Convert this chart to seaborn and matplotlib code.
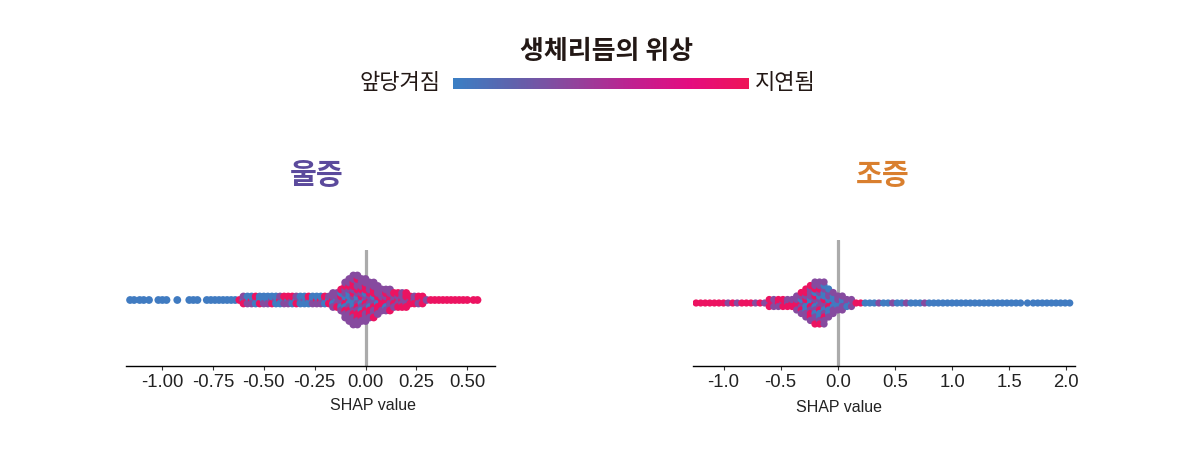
import numpy as np
import pandas as pd
import matplotlib
matplotlib.use("Agg")
import matplotlib.pyplot as plt
from matplotlib.colors import LinearSegmentedColormap
import seaborn as sns

# SHAP values per bin, with point counts by phase group
left_x = [-1.157, -1.137, -1.11, -1.09, -1.064, -1.018, -0.998, -0.978, -0.925, -0.866, -0.846, -0.826,
          -0.78, -0.76, -0.74, -0.72, -0.70, -0.68, -0.66,
          -0.64, -0.62, -0.60, -0.58, -0.56, -0.54, -0.52, -0.50, -0.48, -0.46, -0.44, -0.42, -0.40, -0.38, -0.36, -0.34, -0.32, -0.30, -0.28,
          -0.26, -0.24, -0.22, -0.20, -0.18, -0.16, -0.14, -0.12,
          -0.10, -0.08, -0.06, -0.04, -0.02, 0.00, 0.02, 0.04, 0.06, 0.08, 0.10,
          0.12, 0.14, 0.16, 0.18, 0.20, 0.22, 0.24, 0.26, 0.28,
          0.30, 0.32, 0.34, 0.36, 0.38, 0.40, 0.42, 0.44, 0.46, 0.48, 0.50,
          0.53, 0.55]
left_blue = [1, 1, 1, 1, 1, 1, 1, 1, 1, 1, 1, 1,
             1, 1, 1, 1, 1, 1, 1,
             1, 0, 1, 1, 1, 1, 2, 2, 2, 1, 2, 1, 1, 1, 1, 1, 2, 2, 1,
             2, 1, 1, 1, 1, 1, 1, 2,
             2, 3, 3, 2, 2, 2, 1, 1, 1, 0, 1,
             0, 0, 0, 0, 0, 0, 0, 0, 0,
             0, 0, 0, 0, 0, 0, 0, 0, 0, 0, 0,
             0, 0]
left_purple = [0, 0, 0, 0, 0, 0, 0, 0, 0, 0, 0, 0,
               0, 0, 0, 0, 0, 0, 0,
               0, 0, 1, 1, 1, 1, 0, 1, 1, 1, 1, 1, 1, 1, 1, 1, 1, 1, 1,
               1, 1, 1, 1, 1, 3, 3, 3,
               6, 7, 8, 8, 7, 7, 6, 6, 5, 4, 3,
               4, 3, 2, 3, 2, 1, 2, 1, 1,
               1, 0, 0, 0, 0, 0, 0, 0, 0, 0, 0,
               0, 0]
left_pink = [0, 0, 0, 0, 0, 0, 0, 0, 0, 0, 0, 0,
             0, 0, 0, 0, 0, 0, 0,
             0, 1, 1, 1, 1, 1, 1, 0, 0, 1, 0, 1, 1, 1, 1, 1, 0, 0, 1,
             0, 1, 1, 1, 1, 1, 1, 2,
             3, 3, 4, 5, 4, 4, 4, 4, 3, 3, 3,
             3, 2, 3, 2, 3, 2, 1, 2, 2,
             0, 1, 1, 1, 1, 1, 1, 1, 1, 1, 1,
             1, 1]

right_x = [-1.24, -1.20, -1.16, -1.12, -1.08, -1.04, -1.00, -0.96, -0.92, -0.88, -0.84, -0.80, -0.76, -0.72,
           -0.68, -0.64, -0.60, -0.56, -0.52, -0.48, -0.44, -0.40,
           -0.36, -0.32, -0.28, -0.24, -0.20, -0.16, -0.12, -0.08, -0.04, 0.00, 0.04, 0.08, 0.12, 0.16, 0.20,
           0.24, 0.28, 0.32, 0.36, 0.40, 0.44, 0.48, 0.52, 0.56, 0.60, 0.64, 0.68, 0.72, 0.76, 0.80,
           0.84, 0.88, 0.92, 0.96, 1.00, 1.04, 1.08, 1.12, 1.16, 1.20, 1.24, 1.28, 1.32, 1.36, 1.40, 1.44, 1.48, 1.52, 1.56, 1.60,
           1.66, 1.71, 1.75, 1.79, 1.83, 1.87, 1.91, 1.95, 1.99, 2.03]
right_blue = [0, 0, 0, 0, 0, 0, 0, 0, 0, 0, 0, 0, 0, 0,
              0, 0, 0, 0, 0, 0, 0, 0,
              0, 1, 2, 2, 3, 4, 4, 4, 3, 2, 2, 1, 1, 0, 0,
              1, 1, 1, 0, 1, 1, 0, 1, 1, 0, 1, 1, 1, 0, 1,
              1, 1, 1, 1, 1, 1, 1, 1, 1, 1, 1, 1, 1, 1, 1, 1, 1, 1, 1, 1,
              1, 1, 1, 1, 1, 1, 1, 1, 1, 1]
right_purple = [0, 0, 0, 0, 0, 0, 0, 1, 0, 1, 0, 0, 0, 1,
                0, 1, 1, 2, 1, 1, 2, 1,
                3, 3, 4, 5, 6, 6, 7, 4, 3, 3, 3, 2, 2, 0, 0,
                0, 0, 0, 1, 0, 0, 1, 0, 0, 1, 0, 0, 0, 1, 0,
                0, 0, 0, 0, 0, 0, 0, 0, 0, 0, 0, 0, 0, 0, 0, 0, 0, 0, 0, 0,
                0, 0, 0, 0, 0, 0, 0, 0, 0, 0]
right_pink = [1, 1, 1, 1, 1, 1, 1, 0, 1, 0, 1, 1, 1, 0,
              1, 0, 2, 1, 2, 2, 1, 2,
              2, 3, 3, 4, 4, 3, 2, 1, 1, 0, 0, 0, 0, 1, 1,
              0, 0, 0, 0, 0, 0, 0, 0, 0, 0, 0, 0, 0, 0, 0,
              0, 0, 0, 0, 0, 0, 0, 0, 0, 0, 0, 0, 0, 0, 0, 0, 0, 0, 0, 0,
              0, 0, 0, 0, 0, 0, 0, 0, 0, 0]

left_ticks = [-1.00, -0.75, -0.50, -0.25, 0.00, 0.25, 0.50]
right_ticks = [-1.0, -0.5, 0.0, 0.5, 1.0, 1.5, 2.0]
phase_levels = [0.03, 0.36, 0.95]
phase_colors = ["#3B7FC4", "#5F62AC", "#8F449C", "#BE2190", "#E40C80", "#EE1558"]
# which phase group goes first, so the colours do not form stripes
mix_order = [0, 2, 1, 1, 0, 2, 2, 1, 0, 2, 0, 1, 1, 2, 0, 0, 1]

W, H = 1200, 466
phase_cmap = LinearSegmentedColormap.from_list("phase", phase_colors)

sns.set_theme(style="white")
plt.rcParams["font.family"] = ["Liberation Sans", "Noto Sans CJK KR"]
plt.rcParams["axes.unicode_minus"] = False
KR = ["Noto Sans CJK KR", "DejaVu Sans"]


def build_points(xs, blue, purple, pink):
    # one row per dot, the three phase groups taken in turn inside a bin
    rows = []
    for n, (x, b, p, k) in enumerate(zip(xs, blue, purple, pink)):
        left = [b, p, k]
        turn = n
        while sum(left) > 0:
            i = mix_order[turn % len(mix_order)]
            turn += 1
            if left[i] > 0:
                rows.append((x, phase_levels[i]))
                left[i] -= 1
    df = pd.DataFrame(rows, columns=["shap", "phase"])
    df["row"] = "a"
    return df


def px_axes(x0, x1, y0, y1):
    return fig.add_axes([x0 / W, 1 - y1 / H, (x1 - x0) / W, (y1 - y0) / H])


def swarm_panel(ax, df, xlim, ylim, ticks, fmt, dot_px):
    ax.set_xlim(*xlim)
    ax.set_ylim(*ylim)
    ax.axvline(0, color="#ABABAB", lw=2.3, zorder=0)
    # packed tightly with a small dot, then the dots are enlarged so they overlap
    sns.swarmplot(data=df, x="shap", y="row", hue="phase", palette=phase_cmap, hue_norm=(0, 1),
                  size=2.4, orient="y", legend=False, linewidth=0, ax=ax, zorder=3)
    ax.set_ylim(*ylim)
    ax.set_xlim(*xlim)
    for coll in ax.collections:
        # seaborn redoes the swarm on each draw, keep the layout it already made
        coll.__dict__.pop("draw", None)
        coll.set_sizes([(dot_px * 0.72) ** 2])
    ax.set_xticks(ticks)
    ax.set_xticklabels([fmt % t for t in ticks], fontsize=13.3, color="#222222")
    ax.set_yticks([])
    ax.set_xlabel("")
    ax.set_ylabel("")
    sns.despine(ax=ax, left=True)
    ax.spines["bottom"].set_color("black")
    ax.spines["bottom"].set_linewidth(1.0)
    ax.tick_params(axis="x", length=3, width=0.8, color="#333333", pad=3, bottom=True)
    ax.patch.set_alpha(0)


fig = plt.figure(figsize=(W / 100, H / 100), dpi=100, facecolor="white")

left_ax = px_axes(126, 495, 250, 366)
swarm_panel(left_ax, build_points(left_x, left_blue, left_purple, left_pink),
            (-1.177, 0.636), (0.66, -0.5), left_ticks, "%.2f", 7.8)

right_ax = px_axes(693, 1075, 240, 366)
swarm_panel(right_ax, build_points(right_x, right_blue, right_purple, right_pink),
            (-1.267, 2.076), (0.63, -0.63), right_ticks, "%.1f", 7.2)

# phase colour bar on top
bar_ax = px_axes(453, 749, 78, 89)
sns.heatmap(np.linspace(0, 1, 296).reshape(1, -1), cmap=phase_cmap, vmin=0, vmax=1, cbar=False,
            xticklabels=False, yticklabels=False, ax=bar_ax)

fig.text(607 / W, 1 - 51.5 / H, "생체리듬의 위상", family=KR, fontsize=18.7, fontweight="bold",
         color="#231815", ha="center", va="center")
fig.text(441 / W, 1 - 83 / H, "앞당겨짐", family=KR, fontsize=15.9, color="#231815", ha="right", va="center")
fig.text(755 / W, 1 - 83 / H, "지연됨", family=KR, fontsize=15.9, color="#231815", ha="left", va="center")
fig.text(317 / W, 1 - 175 / H, "울증", family=KR, fontsize=21, fontweight="bold", color="#5B4A9C",
         ha="center", va="center")
fig.text(883 / W, 1 - 175 / H, "조증", family=KR, fontsize=21, fontweight="bold", color="#D97F2E",
         ha="center", va="center")
fig.text(373 / W, 1 - 405 / H, "SHAP value", fontsize=11.5, color="#222222", ha="center", va="center")
fig.text(839 / W, 1 - 407 / H, "SHAP value", fontsize=11.5, color="#222222", ha="center", va="center")

fig.savefig("out.png", dpi=100)
